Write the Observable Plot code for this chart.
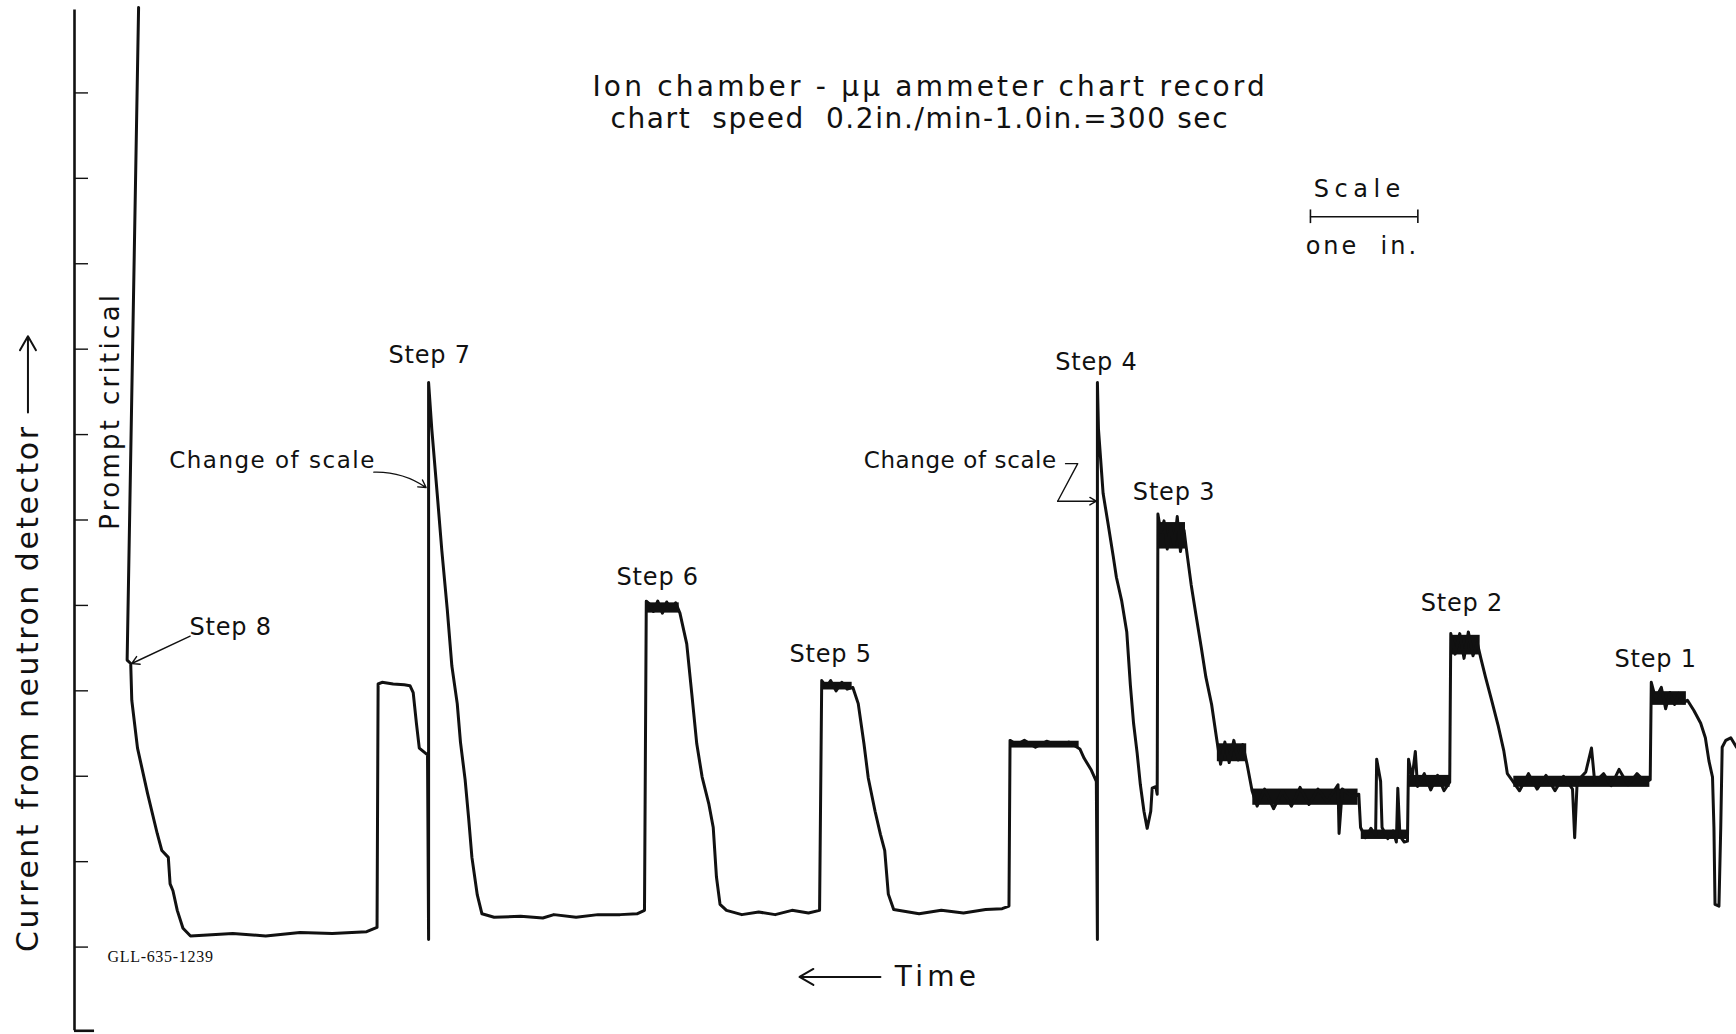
<!DOCTYPE html>
<html><head><meta charset="utf-8">
<script src="https://cdn.jsdelivr.net/npm/d3@7"></script>
<script src="https://cdn.jsdelivr.net/npm/@observablehq/plot@0.6"></script>
<style>
html,body{margin:0;padding:0;background:#fff;}
svg{display:block}
</style>
</head><body><div id="chart"></div>
<script>
// time in seconds (increasing to the left, chart speed 1 in = 300 s), current in chart divisions
const traceTime = [
4463,4495,4485,4482,4466,4438,4411,4398,4380,4375,4367,4355,4339,4318,4200,4108,4012,3922,3826,3797,3794,
3783,3752,3721,3705,3696,3687,3679,3656,3653,3653,3644,3629,3616,3601,3588,3573,3564,3551,3541,3532,3517,3504,3470,
3396,3334,3303,3241,3180,3118,3071,3050,3045,
3037,3025,3013,3000,2988,2975,2963,2951,
2932,2918,2904,2889,2870,2858,2849,2839,2821,
2778,2731,2685,2638,2592,2561,2555,
2542,2530,2515,2499,2484,2468,
2453,2437,2425,2406,2391,2379,2369,2354,
2283,2221,2159,2097,2051,2032,2029,
2010,1989,1958,1927,1896,1865,1834,1822,1803,1788,1785,1785,
1782,1769,1755,1741,1732,1717,1703,1693,1684,1674,1665,1655,1646,1636,1632,1622,1618,1616,
1608,1599,1590,1581,1571,1562,1553,1543,1537,
1523,1509,1495,1482,1466,1452,
1441,1429,1417,1404,1392,1379,1367,1353,
1339,1318,1293,1268,1243,1219,1194,1169,1144,1113,1110,1101,1076,1055,1050,
1036,1021,1008,1005,994,990,974,959,950,946,940,928,919,916,
906,897,891,872,854,835,817,801,798,
786,773,761,749,736,724,714,
701,684,665,650,640,626,
606,581,557,532,507,483,458,452,445,421,405,396,371,350,328,303,278,254,241,238,
226,210,198,186,173,161,148,137,119,100,87,77,67,63,60,49,44,40,30,16,0
];
const traceCurrent = [
12.0,4.36,4.32,3.89,3.33,2.80,2.33,2.13,2.05,1.74,1.66,1.43,1.22,1.13,1.16,1.13,1.17,1.16,1.18,1.23,4.08,
4.10,4.08,4.07,4.06,3.98,3.62,3.33,3.25,1.09,7.61,7.06,6.31,5.64,4.96,4.29,3.85,3.40,2.96,2.50,2.05,1.61,1.39,1.35,
1.36,1.34,1.38,1.35,1.38,1.38,1.39,1.43,5.05,
5.02,4.93,5.05,4.91,5.04,4.95,5.03,4.91,
4.55,3.97,3.38,2.99,2.67,2.40,1.82,1.50,1.43,
1.38,1.41,1.38,1.43,1.40,1.43,4.12,
4.04,4.12,4.00,4.10,4.02,4.04,
3.85,3.38,2.98,2.59,2.32,2.13,1.62,1.44,
1.39,1.43,1.40,1.44,1.45,1.48,3.42,
3.37,3.42,3.34,3.41,3.36,3.40,3.32,3.21,3.08,2.94,1.09,7.61,
7.06,6.31,5.95,5.58,5.33,5.05,4.69,4.07,3.62,3.27,2.90,2.59,2.39,2.59,2.86,2.88,2.79,6.07,
5.86,5.99,5.66,5.92,5.70,6.04,5.63,5.88,5.68,
5.24,4.87,4.51,4.16,3.84,3.44,
3.14,3.40,3.16,3.42,3.19,3.37,3.14,2.83,
2.65,2.85,2.62,2.83,2.65,2.87,2.67,2.85,2.70,2.90,2.33,2.85,2.77,2.79,2.40,
2.28,2.39,2.31,3.20,2.94,2.40,2.27,2.36,2.23,2.86,2.30,2.23,2.24,3.20,
2.98,3.29,2.88,3.03,2.84,3.01,2.83,2.93,4.67,
4.43,4.67,4.38,4.69,4.41,4.56,4.38,
4.16,3.89,3.58,3.30,3.03,2.95,
2.83,3.03,2.85,3.01,2.83,3.00,2.85,2.28,2.94,3.05,3.33,2.93,3.03,2.89,3.08,2.90,3.03,2.93,2.96,4.10,
3.91,4.04,3.79,3.98,3.84,3.97,3.86,3.89,3.77,3.62,3.45,3.18,2.99,2.40,1.50,1.48,2.40,3.34,3.42,3.45,3.34
];
// noisy plateaus: the pen trace thickens into a band between these readings
const bandFrom = [3043, 2553, 2027, 1614, 1450, 1351, 1048, 914, 796, 622, 236];
const bandTo   = [2953, 2470, 1836, 1539, 1368, 1057,  918, 800, 716, 242, 140];
const bandLow  = [4.91, 4.01, 3.33, 5.66, 3.17, 2.66, 2.26, 2.87, 4.42, 2.87, 3.83];
const bandHigh = [5.03, 4.10, 3.41, 5.97, 3.38, 2.85, 2.37, 3.01, 4.65, 3.00, 3.99];

const yTicks = [1,2,3,4,5,6,7,8,9,10,11];

const stepLabels = ["Step 8","Step 7","Step 6","Step 5","Step 4","Step 3","Step 2","Step 1"];
const stepTime   = [4206, 3650, 3013, 2530, 1788, 1571, 767, 226];
const stepCurrent= [4.74, 7.93, 5.33, 4.43, 7.85, 6.32, 5.02, 4.37];

const noteLabels  = ["Change of scale","Change of scale"];
const noteTime    = [4089, 2168];
const noteCurrent = [6.69, 6.69];

const titleLines   = ["Ion chamber - μμ ammeter chart record", "chart  speed  0.2in./min-1.0in.=300 sec"];
const titleTime    = [2252, 2281];
const titleCurrent = [11.07, 10.70];

// scale bar: one inch of chart = 300 s
const scaleStart = 1190, scaleEnd = 890, scaleLevel = 9.55;

const trace = traceTime.map((t, i) => ({t, c: traceCurrent[i]}));
const bands = bandFrom.map((t1, i) => ({t1, t2: bandTo[i], lo: bandLow[i], hi: bandHigh[i]}));
const steps = stepLabels.map((s, i) => ({s, t: stepTime[i], c: stepCurrent[i]}));
const notes = noteLabels.map((s, i) => ({s, t: noteTime[i], c: noteCurrent[i]}));

const ink = "#111";
const plot = Plot.plot({
  width: 1736, height: 1034,
  marginLeft: 74, marginRight: 0, marginTop: 7, marginBottom: 2,
  x: {domain: [4642, 0], axis: null},
  y: {domain: [0, 12], axis: null},
  style: {background: "#fff", color: ink, fontFamily: "DejaVu Sans, sans-serif"},
  marks: [
    Plot.ruleX([4642], {y1: 0.02, y2: 11.97, stroke: ink, strokeWidth: 2.6}),
    Plot.ruleY([0.02], {x1: 4642, x2: 4586, stroke: ink, strokeWidth: 2.6}),
    Plot.axisY(yTicks, {anchor: "left", tickSize: -14, tickFormat: () => "", label: null, strokeWidth: 1.4}),
    Plot.rect(bands, {x1: "t1", x2: "t2", y1: "lo", y2: "hi", fill: ink}),
    Plot.line(trace, {x: "t", y: "c", stroke: ink, strokeWidth: 3, strokeLinejoin: "round", strokeLinecap: "round"}),
    // titles
    Plot.text([titleLines[0]], {x: titleTime[0], y: titleCurrent[0], text: d => d, fontSize: 28, fill: ink}),
    Plot.text([titleLines[1]], {x: titleTime[1], y: titleCurrent[1], text: d => d, fontSize: 28, fill: ink}),
    // scale bar
    Plot.ruleY([scaleLevel], {x1: scaleStart, x2: scaleEnd, stroke: ink, strokeWidth: 1.6}),
    Plot.ruleX([scaleStart, scaleEnd], {y1: scaleLevel - 0.08, y2: scaleLevel + 0.08, stroke: ink, strokeWidth: 1.6}),
    Plot.text(["Scale"], {x: 1052, y: 9.87, text: d => d, fontSize: 24, fill: ink}),
    Plot.text(["one  in."], {x: 1045, y: 9.20, text: d => d, fontSize: 24, fill: ink}),
    // step labels
    Plot.text(steps, {x: "t", y: "c", text: "s", fontSize: 24, fill: ink}),
    Plot.text(notes, {x: "t", y: "c", text: "s", fontSize: 23, fill: ink}),
    // Step 8 pointer
    Plot.arrow([0], {x1: 4319, y1: 4.64, x2: 4482, y2: 4.32, stroke: ink, strokeWidth: 1.4, headLength: 9}),
    // left "change of scale" pointer
    Plot.arrow([0], {x1: 3806, y1: 6.56, x2: 3660, y2: 6.38, bend: 18, stroke: ink, strokeWidth: 1.4, headLength: 9}),
    // right "change of scale" Z pointer
    Plot.line([{t:1874,c:6.66},{t:1840,c:6.66},{t:1896,c:6.22}], {x: "t", y: "c", stroke: ink, strokeWidth: 1.4}),
    Plot.arrow([0], {x1: 1896, y1: 6.22, x2: 1788, y2: 6.22, stroke: ink, strokeWidth: 1.4, headLength: 8}),
    // prompt critical
    Plot.text(["Prompt critical"], {x: 4541, y: 7.28, text: d => d, rotate: -90, fontSize: 26, fill: ink}),
    // y label
    Plot.text(["Current from neutron detector"], {x: 4772, y: 4.03, text: d => d, rotate: -90, fontSize: 30, fill: ink}),
    Plot.arrow([0], {x1: 4772, y1: 7.26, x2: 4772, y2: 8.15, stroke: ink, strokeWidth: 2, headLength: 12}),
    // time arrow
    Plot.arrow([0], {x1: 2391, y1: 0.65, x2: 2617, y2: 0.65, stroke: ink, strokeWidth: 2, headLength: 12}),
    Plot.text(["Time"], {x: 2351, y: 0.65, text: d => d, textAnchor: "start", fontSize: 28, fill: ink}),
    // figure code
    Plot.text(["GLL-635-1239"], {x: 4550, y: 0.88, text: d => d, textAnchor: "start", fontSize: 16, fontFamily: "Liberation Serif, serif", fill: ink})
  ]
});
// wide lettering-guide spacing of the original
const spacing = {
  "Ion chamber - μμ ammeter chart record": 3.2,
  "chart  speed  0.2in./min-1.0in.=300 sec": 1.6,
  "Scale": 5.5, "one  in.": 3, "Time": 4.2,
  "Current from neutron detector": 2.5, "Prompt critical": 3.3,
  "GLL-635-1239": 0.7
};
let noteCount = 0;
d3.select(plot).selectAll("text").each(function() {
  const s = this.textContent;
  if (spacing[s] != null) this.style.letterSpacing = spacing[s] + "px";
  else if (s === "Change of scale") this.style.letterSpacing = (noteCount++ === 0 ? 1.5 : 0.6) + "px";
  else if (s.startsWith("Step")) this.style.letterSpacing = "0.8px";
});
document.getElementById("chart").appendChild(plot);
</script>
</body></html>
